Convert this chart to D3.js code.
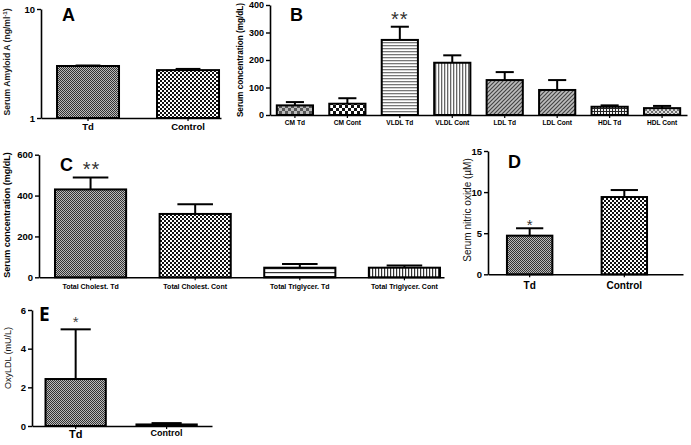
<!DOCTYPE html>
<html><head><meta charset="utf-8">
<script src="https://cdn.jsdelivr.net/npm/d3@7"></script>
<style>
body{margin:0;background:#fff;}
svg{display:block;font-family:"Liberation Sans",Arial,sans-serif;}
</style></head><body>
<svg id="c" width="691" height="445"></svg>
<script>
// ---- data ----
const aCats = ["Td", "Control"];
const aVals = [3.0, 2.75];
const aErr  = [3.03, 2.82];
const aTicks = [1, 10];

const bCats = ["CM Td", "CM Cont", "VLDL Td", "VLDL Cont", "LDL Td", "LDL Cont", "HDL Td", "HDL Cont"];
const bVals = [35, 41, 273, 190, 127, 91, 30, 25];
const bErr  = [47, 61, 321, 217, 156, 127, 35, 33];
const bTicks = [0, 100, 200, 300, 400];

const cCats = ["Total Cholest. Td", "Total Cholest. Cont", "Total Triglycer. Td", "Total Triglycer. Cont"];
const cVals = [430, 310, 47, 47];
const cErr  = [489, 358, 65, 58];
const cTicks = [0, 200, 400, 600];

const dCats = ["Td", "Control"];
const dVals = [4.7, 9.4];
const dErr  = [5.6, 10.25];
const dTicks = [0, 5, 10, 15];

const eCats = ["Td", "Control"];
const eVals = [2.43, 0.08];
const eErr  = [5.0, 0.15];
const eTicks = [0, 2, 4, 6];

// ---- patterns ----
const svg = d3.select("#c");
const defs = svg.append("defs");
function pat(id, w, h, draw) {
  const p = defs.append("pattern").attr("id", id).attr("patternUnits", "userSpaceOnUse")
    .attr("width", w).attr("height", h);
  draw(p);
}
pat("pTd", 2, 2, p => {
  p.append("rect").attr("width", 2).attr("height", 2).attr("fill", "#bbb");
  p.append("rect").attr("width", 1).attr("height", 1).attr("fill", "#333");
  p.append("rect").attr("x", 1).attr("y", 1).attr("width", 1).attr("height", 1).attr("fill", "#333");
});
pat("pCt", 4, 4, p => {
  p.append("rect").attr("width", 4).attr("height", 4).attr("fill", "#fff");
  p.append("rect").attr("width", 2).attr("height", 2).attr("fill", "#111");
  p.append("rect").attr("x", 2).attr("y", 2).attr("width", 2).attr("height", 2).attr("fill", "#111");
});
pat("pCMTd", 6, 6, p => {
  p.append("rect").attr("width", 6).attr("height", 6).attr("fill", "#bbb");
  p.append("rect").attr("width", 3).attr("height", 3).attr("fill", "#555");
  p.append("rect").attr("x", 3).attr("y", 3).attr("width", 3).attr("height", 3).attr("fill", "#555");
});
pat("pCMCt", 6, 6, p => {
  p.append("rect").attr("width", 6).attr("height", 6).attr("fill", "#fff");
  p.append("rect").attr("width", 3).attr("height", 3).attr("fill", "#111");
  p.append("rect").attr("x", 3).attr("y", 3).attr("width", 3).attr("height", 3).attr("fill", "#111");
});
pat("pH", 4, 3, p => {
  p.append("rect").attr("width", 4).attr("height", 3).attr("fill", "#fff");
  p.append("rect").attr("width", 4).attr("height", 1.3).attr("fill", "#777");
});
pat("pV", 3, 4, p => {
  p.append("rect").attr("width", 3).attr("height", 4).attr("fill", "#fff");
  p.append("rect").attr("width", 1.3).attr("height", 4).attr("fill", "#666");
});
pat("pD", 4, 4, p => {
  p.append("rect").attr("width", 4).attr("height", 4).attr("fill", "#bdbdbd");
  p.append("path").attr("d", "M-1,1 l2,-2 M0,4 l4,-4 M3,5 l2,-2").attr("stroke", "#444").attr("stroke-width", 1.2);
});
pat("pG", 3, 3, p => {
  p.append("rect").attr("width", 3).attr("height", 3).attr("fill", "#222");
  p.append("rect").attr("x", 1).attr("y", 1).attr("width", 2).attr("height", 2).attr("fill", "#eee");
});
pat("pX", 4, 4, p => {
  p.append("rect").attr("width", 4).attr("height", 4).attr("fill", "#ddd");
  p.append("path").attr("d", "M0,0 L4,4 M4,0 L0,4").attr("stroke", "#555").attr("stroke-width", 0.8);
});
pat("pH2", 4, 4, p => {
  p.append("rect").attr("width", 4).attr("height", 4).attr("fill", "#fff");
  p.append("rect").attr("width", 4).attr("height", 1.2).attr("fill", "#333");
});
pat("pV2", 3, 4, p => {
  p.append("rect").attr("width", 3).attr("height", 4).attr("fill", "#fff");
  p.append("rect").attr("width", 1.2).attr("height", 4).attr("fill", "#333");
});

// ---- generic panel ----
function panel(o) {
  const g = svg.append("g");
  const x = d3.scaleBand().domain(o.cats).range([o.x0, o.x1])
    .paddingInner(o.pi).paddingOuter(o.po).align(o.align);
  const y = o.y;
  const bw = x.bandwidth();
  const base = y.range()[0];
  o.cats.forEach((c, i) => {
    const xc = x(c) + bw / 2;
    const capW = bw * (o.cap || 0.5);
    g.append("line").attr("x1", xc).attr("x2", xc).attr("y1", y(o.vals[i])).attr("y2", y(o.errs[i]))
      .attr("stroke", "#000").attr("stroke-width", 2);
    g.append("line").attr("x1", xc - capW / 2).attr("x2", xc + capW / 2).attr("y1", y(o.errs[i])).attr("y2", y(o.errs[i]))
      .attr("stroke", "#000").attr("stroke-width", 2);
    g.append("rect").attr("x", x(c)).attr("y", y(o.vals[i])).attr("width", bw)
      .attr("height", base - y(o.vals[i])).attr("fill", "url(#" + o.fills[i] + ")")
      .attr("stroke", "#000").attr("stroke-width", 2);
  });
  const ya = g.append("g").attr("transform", `translate(${o.x0},0)`)
    .call(d3.axisLeft(y).tickValues(o.ticks).tickFormat(d3.format("d")).tickSize(4).tickSizeOuter(0).tickPadding(2));
  ya.select(".domain").attr("stroke-width", 1.6);
  ya.selectAll(".tick line").attr("stroke-width", 1.4);
  ya.selectAll("text").attr("font-size", o.tickFs || 9.5).attr("font-weight", "bold").attr("fill", "#000")
    .attr("font-family", "Liberation Sans, Arial, sans-serif");
  const xa = g.append("g").attr("transform", `translate(0,${base})`)
    .call(d3.axisBottom(x).tickSize(3).tickSizeOuter(0).tickFormat(""));
  xa.select(".domain").attr("stroke-width", 1.6);
  xa.selectAll(".tick line").attr("stroke-width", 1.2);
  o.cats.forEach((c, i) => {
    g.append("text").attr("x", x(c) + bw / 2).attr("y", Array.isArray(o.labY) ? o.labY[i] : o.labY)
      .attr("text-anchor", "middle").attr("font-size", Array.isArray(o.labFs) ? o.labFs[i] : o.labFs)
      .attr("font-weight", "bold").text(c);
  });
  return {g, x, y};
}

// ---- Panel A ----
const A = panel({cats: aCats, vals: aVals, errs: aErr, ticks: aTicks,
  x0: 41, x1: 221, pi: 0.38, po: 0.09, align: 0.89,
  y: d3.scaleLog().domain([1, 10]).range([118, 9]),
  fills: ["pTd", "pCt"], labY: 130, labFs: 9.5, cap: 0.4});
svg.append("text").attr("x", 62).attr("y", 21).attr("font-size", 18).attr("font-weight", "bold").text("A");
{
  const t = svg.append("text").attr("transform", "translate(10,62) rotate(-90)").attr("text-anchor", "middle")
    .attr("font-size", 8.6).attr("font-weight", "bold").attr("fill", "#222");
  t.append("tspan").text("Serum Amyloid A (ng/ml");
  t.append("tspan").attr("dy", -3).attr("font-size", 6).text("-1");
  t.append("tspan").attr("dy", 3).text(")");
}

// ---- Panel B ----
const B = panel({cats: bCats, vals: bVals, errs: bErr, ticks: bTicks,
  x0: 270, x1: 687, pi: 0.31, po: 0.13, align: 0.5,
  y: d3.scaleLinear().domain([0, 400]).range([115, 5]),
  fills: ["pCMTd", "pCMCt", "pH", "pV", "pD", "pD", "pG", "pX"], labY: 125, labFs: 6.6, tickFs: 9});
svg.append("text").attr("x", 290).attr("y", 21).attr("font-size", 18).attr("font-weight", "bold").text("B");
svg.append("text").attr("transform", "translate(243,60) rotate(-90)").attr("text-anchor", "middle")
  .attr("font-size", 8.2).attr("font-weight", "bold").text("Serum concentration (mg/dL)");
svg.append("text").attr("x", B.x("VLDL Td") + B.x.bandwidth() / 2).attr("y", 26).attr("text-anchor", "middle")
  .attr("font-size", 20).attr("fill", "#333").attr("letter-spacing", 1).text("**");

// ---- Panel C ----
const C = panel({cats: cCats, vals: cVals, errs: cErr, ticks: cTicks,
  x0: 39, x1: 444, pi: 0.32, po: 0.0955, align: 0.8,
  y: d3.scaleLinear().domain([0, 600]).range([277.3, 154.7]),
  fills: ["pTd", "pCt", "pH2", "pV2"], labY: 289, labFs: 7, tickFs: 9.5});
svg.append("text").attr("x", 60).attr("y", 171).attr("font-size", 18).attr("font-weight", "bold").text("C");
svg.append("text").attr("x", C.x(cCats[0]) + C.x.bandwidth() / 2 + 1).attr("y", 176).attr("text-anchor", "middle")
  .attr("font-size", 20).attr("fill", "#333").attr("letter-spacing", 1).text("**");
svg.append("text").attr("transform", "translate(10,215) rotate(-90)").attr("text-anchor", "middle")
  .attr("font-size", 9).attr("font-weight", "bold").text("Serum concentration (mg/dL)");

// ---- Panel D ----
const D = panel({cats: dCats, vals: dVals, errs: dErr, ticks: dTicks,
  x0: 488, x1: 683, pi: 0.52, po: 0.29, align: 0.345,
  y: d3.scaleLinear().domain([0, 15]).range([274.3, 151]),
  fills: ["pTd", "pCt"], labY: 289, labFs: 10, tickFs: 9.5, cap: 0.6});
svg.append("text").attr("x", 508).attr("y", 168).attr("font-size", 18).attr("font-weight", "bold").text("D");
svg.append("text").attr("x", D.x("Td") + D.x.bandwidth() / 2).attr("y", 230).attr("text-anchor", "middle")
  .attr("font-size", 15).attr("fill", "#333").text("*");
svg.append("text").attr("transform", "translate(471,210) rotate(-90)").attr("text-anchor", "middle")
  .attr("font-size", 10).attr("fill", "#111").text("Serum nitric oxide (µM)");

// ---- Panel E ----
const E = panel({cats: eCats, vals: eVals, errs: eErr, ticks: eTicks,
  x0: 32, x1: 212, pi: 0.337, po: 0.158, align: 0.47,
  y: d3.scaleLinear().domain([0, 6]).range([426, 310]),
  fills: ["pTd", "pCt"], labY: [438, 436], labFs: [11, 9], tickFs: 9.5});
svg.append("text").attr("x", 39).attr("y", 321).attr("font-size", 19).attr("font-weight", "bold")
  .attr("font-family", "Open Sans, Liberation Sans, sans-serif").text("E");
svg.append("text").attr("x", E.x("Td") + E.x.bandwidth() / 2).attr("y", 327).attr("text-anchor", "middle")
  .attr("font-size", 15).attr("fill", "#444").text("*");
svg.append("text").attr("transform", "translate(11,358) rotate(-90)").attr("text-anchor", "middle")
  .attr("font-size", 9).attr("fill", "#111").text("OxyLDL (mU/L)");
</script></body></html>
